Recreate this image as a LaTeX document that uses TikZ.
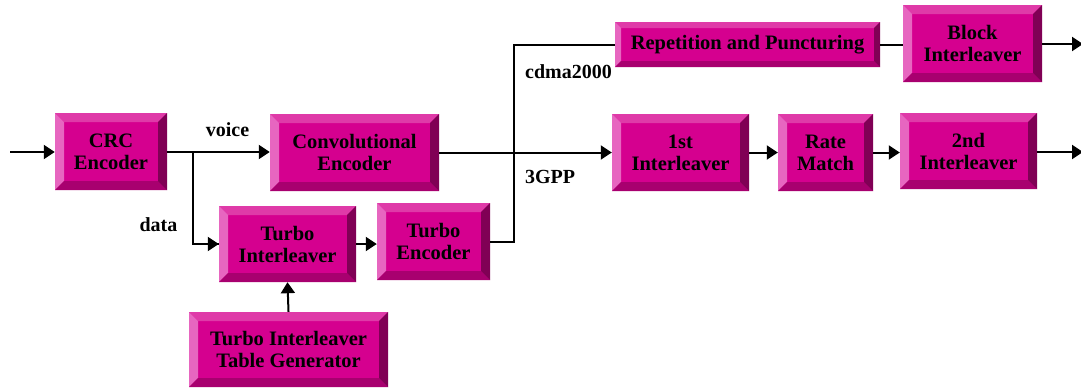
\documentclass[tikz,border=0pt]{standalone}
\usepackage{fontspec}
\setmainfont{Liberation Serif}
\usetikzlibrary{arrows.meta}
\definecolor{mainc}{RGB}{213,0,143}
\definecolor{topc}{RGB}{223,58,168}
\definecolor{leftc}{RGB}{231,102,192}
\definecolor{botc}{RGB}{168,0,111}
\definecolor{rightc}{RGB}{128,0,85}
\tikzset{
  blk/.style={rectangle, fill=mainc, inner sep=0pt, align=center, text=black,
    font=\bfseries\fontsize{20.5}{22}\selectfont,
    path picture={
      \fill[topc] (path picture bounding box.north west) -- (path picture bounding box.north east) -- ([shift={(-#1,-#1)}]path picture bounding box.north east) -- ([shift={(#1,-#1)}]path picture bounding box.north west) -- cycle;
      \fill[leftc] (path picture bounding box.north west) -- ([shift={(#1,-#1)}]path picture bounding box.north west) -- ([shift={(#1,#1)}]path picture bounding box.south west) -- (path picture bounding box.south west) -- cycle;
      \fill[botc] (path picture bounding box.south west) -- ([shift={(#1,#1)}]path picture bounding box.south west) -- ([shift={(-#1,#1)}]path picture bounding box.south east) -- (path picture bounding box.south east) -- cycle;
      \fill[rightc] (path picture bounding box.south east) -- ([shift={(-#1,#1)}]path picture bounding box.south east) -- ([shift={(-#1,-#1)}]path picture bounding box.north east) -- (path picture bounding box.north east) -- cycle;
    }},
  blk/.default=9pt,
  lbl/.style={font=\bfseries\fontsize{20}{22}\selectfont, inner sep=0pt},
  conn/.style={line width=2pt, black},
  arr/.style={conn, -{Triangle[length=11pt,width=14pt]}}
}
\begin{document}
\begin{tikzpicture}[x=1pt,y=-1pt]
\useasboundingbox (0,0) rectangle (1081,388);
\node[blk, minimum width=112pt, minimum height=77pt] (crc) at (111,151.5) {CRC\\Encoder};
\node[blk, minimum width=169pt, minimum height=77pt] (conv) at (354.5,152.5) {Convolutional\\Encoder};
\node[blk, minimum width=137pt, minimum height=76pt] (ti) at (287.5,244) {Turbo\\Interleaver};
\node[blk, minimum width=113pt, minimum height=77pt] (te) at (433.5,241.5) {Turbo\\Encoder};
\node[blk, minimum width=199pt, minimum height=75pt] (titg) at (288.5,349.5) {Turbo Interleaver\\Table Generator};
\node[blk=6pt, minimum width=265pt, minimum height=45pt] (rep) at (747.5,44.5) {Repetition and Puncturing};
\node[blk, minimum width=139pt, minimum height=77pt] (bi) at (972.5,43.5) {Block\\Interleaver};
\node[blk, minimum width=137pt, minimum height=77pt] (i1) at (680.5,152.5) {1st\\Interleaver};
\node[blk, minimum width=95pt, minimum height=77pt] (rm) at (825.5,152.5) {Rate\\Match};
\node[blk, minimum width=137pt, minimum height=76pt] (i2) at (968.5,151) {2nd\\Interleaver};

\coordinate (in) at (10,152);
\coordinate (split) at (193,152);
\coordinate (bend) at (514,242);
\coordinate (top) at (514,44.5);
\coordinate (out1) at (1083,44);
\coordinate (out2) at (1083,152);

\draw[arr] (in) -- (crc.west |- in);
\draw[arr] (crc.east |- split) -- (conv.west |- split);
\draw[conn] (split) |- (ti.west);
\draw[arr] (split |- ti.west) -- (ti.west);
\draw[arr] (ti.east) -- (te.west |- ti.east);
\draw[arr] (titg.north) -- (ti.south);
\draw[conn] (te.east |- bend) -- (bend) -- (top) -- (rep.west);
\draw[conn] (rep.east) -- (bi.west |- rep.east);
\draw[arr] (bi.east |- out1) -- (out1);
\draw[arr] (conv.east) -- (i1.west);
\draw[arr] (i1.east) -- (rm.west);
\draw[arr] (rm.east) -- (i2.west |- rm.east);
\draw[arr] (i2.east |- out2) -- (out2);

\node[lbl] (voice) at (227.5,130) {voice};
\node[lbl] (data) at (158.5,225) {data};
\node[lbl] (cdma) at (568.5,72) {cdma2000};
\node[lbl] (gpp) at (550,177) {3GPP};
\end{tikzpicture}
\end{document}
